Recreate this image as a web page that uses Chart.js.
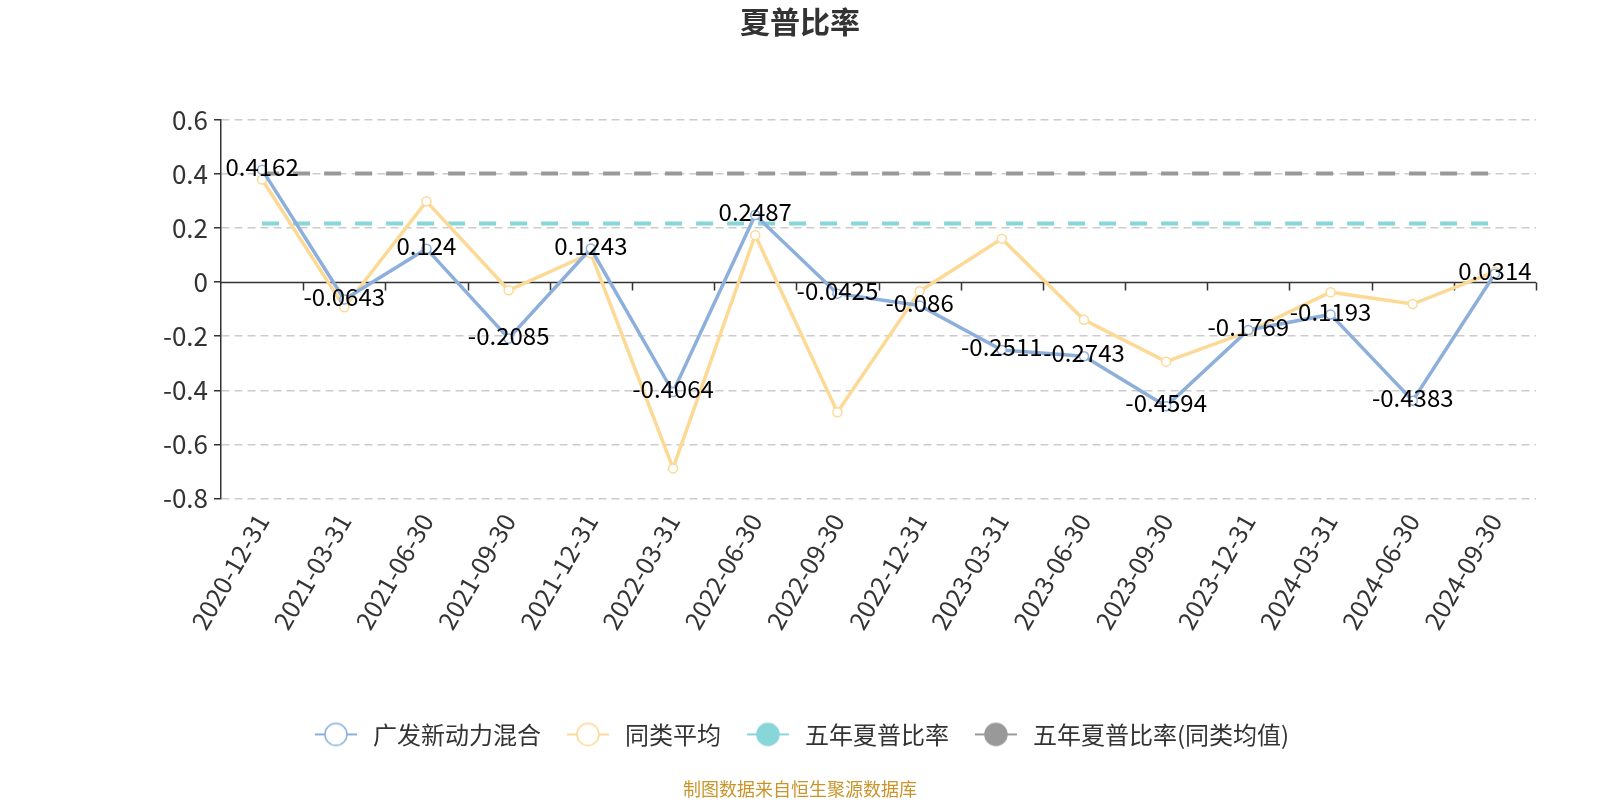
<!DOCTYPE html>
<html>
<head>
<meta charset="utf-8">
<script src="https://cdn.jsdelivr.net/npm/chart.js@4/dist/chart.umd.min.js"></script>
<style>
  html, body { margin: 0; padding: 0; background: #fff; }
  #wrap { width: 1600px; height: 800px; }
</style>
</head>
<body>
<div id="wrap"><canvas id="sharpeChart"></canvas></div>
<script>
// data
const dates = ['2020-12-31', '2021-03-31', '2021-06-30', '2021-09-30', '2021-12-31', '2022-03-31',
  '2022-06-30', '2022-09-30', '2022-12-31', '2023-03-31', '2023-06-30', '2023-09-30',
  '2023-12-31', '2024-03-31', '2024-06-30', '2024-09-30'];
const fundSharpe = [0.4162, -0.0643, 0.124, -0.2085, 0.1243, -0.4064, 0.2487, -0.0425,
  -0.086, -0.2511, -0.2743, -0.4594, -0.1769, -0.1193, -0.4383, 0.0314];
const peerAvg = [0.38, -0.093, 0.299, -0.03, 0.107, -0.689, 0.174, -0.481,
  -0.034, 0.161, -0.139, -0.294, -0.183, -0.037, -0.081, 0.039];
const fiveYearSharpe = 0.217;
const fiveYearPeer = 0.402;
const yTicks = [0.6, 0.4, 0.2, 0, -0.2, -0.4, -0.6, -0.8];

const FONT = '"Noto Sans CJK SC", "Noto Sans", sans-serif';
const BLUE = '#8DAFDB';
const ORANGE = '#FDD996';
const TEAL = '#88D6D8';
const GRAY = '#999999';

// legend icon: short line with a circle on it
function legendIcon(color, filled) {
  const c = document.createElement('canvas');
  c.width = 44; c.height = 26;
  const g = c.getContext('2d');
  g.strokeStyle = color;
  g.lineWidth = 2;
  g.beginPath(); g.moveTo(1, 13); g.lineTo(43, 13); g.stroke();
  g.beginPath(); g.arc(22, 13, 11, 0, Math.PI * 2);
  g.fillStyle = filled ? color : '#fff';
  g.fill();
  g.lineWidth = 1.5;
  g.stroke();
  return c;
}
const icons = [legendIcon(BLUE, false), legendIcon(ORANGE, false), legendIcon(TEAL, true), legendIcon(GRAY, true)];

// value labels for the fund line
const valueLabels = {
  id: 'valueLabels',
  afterDatasetsDraw(chart) {
    const meta = chart.getDatasetMeta(0);
    const ctx = chart.ctx;
    ctx.save();
    ctx.font = '24px ' + FONT;
    ctx.fillStyle = '#000';
    ctx.textAlign = 'center';
    ctx.textBaseline = 'middle';
    meta.data.forEach((pt, i) => {
      ctx.fillText(String(fundSharpe[i]), pt.x, pt.y - 3);
    });
    ctx.restore();
  }
};

// x axis sits on zero: draw the zero line with its tick marks
const zeroAxis = {
  id: 'zeroAxis',
  beforeDatasetsDraw(chart) {
    const x = chart.scales.x, y = chart.scales.y;
    const y0 = Math.round(y.getPixelForValue(0)) + 0.5;
    const ctx = chart.ctx;
    ctx.save();
    ctx.strokeStyle = '#333';
    ctx.lineWidth = 1.5;
    ctx.beginPath();
    ctx.moveTo(x.left, y0); ctx.lineTo(x.right, y0);
    const step = (x.right - x.left) / dates.length;
    for (let i = 1; i <= dates.length; i++) {
      const px = Math.round(x.left + step * i) + 0.5;
      ctx.moveTo(px, y0); ctx.lineTo(px, y0 + 8);
    }
    ctx.stroke();
    ctx.restore();
  }
};

new Chart(document.getElementById('sharpeChart'), {
  type: 'line',
  data: {
    labels: dates,
    datasets: [{
      label: '广发新动力混合',
      data: fundSharpe,
      borderColor: BLUE,
      backgroundColor: '#fff',
      borderWidth: 3.5,
      pointRadius: 4.5,
      pointBorderWidth: 1.5,
      pointBackgroundColor: '#fff',
      pointBorderColor: BLUE,
      tension: 0,
      order: 1
    }, {
      label: '同类平均',
      data: peerAvg,
      borderColor: ORANGE,
      backgroundColor: '#fff',
      borderWidth: 3.5,
      pointRadius: 4.5,
      pointBorderWidth: 1.5,
      pointBackgroundColor: '#fff',
      pointBorderColor: ORANGE,
      tension: 0,
      order: 2
    }, {
      label: '五年夏普比率',
      data: dates.map(() => fiveYearSharpe),
      borderColor: TEAL,
      backgroundColor: TEAL,
      borderWidth: 4,
      borderDash: [17, 14],
      pointRadius: 0,
      order: 3
    }, {
      label: '五年夏普比率(同类均值)',
      data: dates.map(() => fiveYearPeer),
      borderColor: GRAY,
      backgroundColor: GRAY,
      borderWidth: 4,
      borderDash: [17, 14],
      pointRadius: 0,
      order: 4
    }]
  },
  options: {
    responsive: true,
    maintainAspectRatio: false,
    animation: false,
    devicePixelRatio: 1,
    layout: { padding: 0 },
    plugins: {
      title: {
        display: true,
        text: '夏普比率',
        color: '#333',
        font: { family: FONT, size: 30, weight: 'bold' },
        padding: { top: 4, bottom: 80 }
      },
      subtitle: {
        display: true,
        position: 'bottom',
        text: '制图数据来自恒生聚源数据库',
        color: '#C9952B',
        font: { family: FONT, size: 18 },
        padding: { top: 22, bottom: 0 }
      },
      legend: {
        position: 'bottom',
        labels: {
          usePointStyle: true,
          pointStyleWidth: 50,
          boxHeight: 24,
          color: '#333',
          font: { family: FONT, size: 24 },
          padding: 22,
          generateLabels(chart) {
            return chart.data.datasets.map((ds, i) => ({
              text: ds.label,
              pointStyle: icons[i],
              fillStyle: ds.borderColor,
              strokeStyle: ds.borderColor,
              lineWidth: 0,
              fontColor: '#333',
              hidden: !chart.isDatasetVisible(i),
              datasetIndex: i
            }));
          }
        }
      },
      tooltip: { enabled: false }
    },
    scales: {
      x: {
        offset: true,
        grid: { display: false },
        border: { display: false },
        ticks: {
          color: '#333',
          font: { family: FONT, size: 25 },
          minRotation: 60,
          maxRotation: 60,
          padding: 2
        },
        afterFit(scale) { scale.height = 202; }
      },
      y: {
        min: -0.8,
        max: 0.6,
        afterBuildTicks(scale) { scale.ticks = yTicks.map(v => ({ value: v })); },
        afterFit(scale) { scale.width = 221; },
        ticks: {
          color: '#333',
          font: { family: FONT, size: 26 },
          padding: 6,
          callback: v => String(Math.round(v * 10) / 10)
        },
        grid: {
          color: ctx => (ctx.tick && ctx.tick.value === 0) ? 'rgba(0,0,0,0)' : '#CCCCCC',
          lineWidth: 1.5,
          tickColor: '#333',
          tickLength: 7,
          tickBorderDash: []
        },
        border: {
          display: true,
          color: '#333',
          width: 1.5,
          dash: ctx => (ctx.tick ? [8, 5] : [])
        }
      },
      // empty right axis, only reserves the right margin
      yRight: {
        position: 'right',
        display: true,
        grid: { display: false },
        border: { display: false },
        ticks: { display: false },
        afterFit(scale) { scale.width = 64; }
      }
    }
  },
  plugins: [zeroAxis, valueLabels]
});
</script>
</body>
</html>
